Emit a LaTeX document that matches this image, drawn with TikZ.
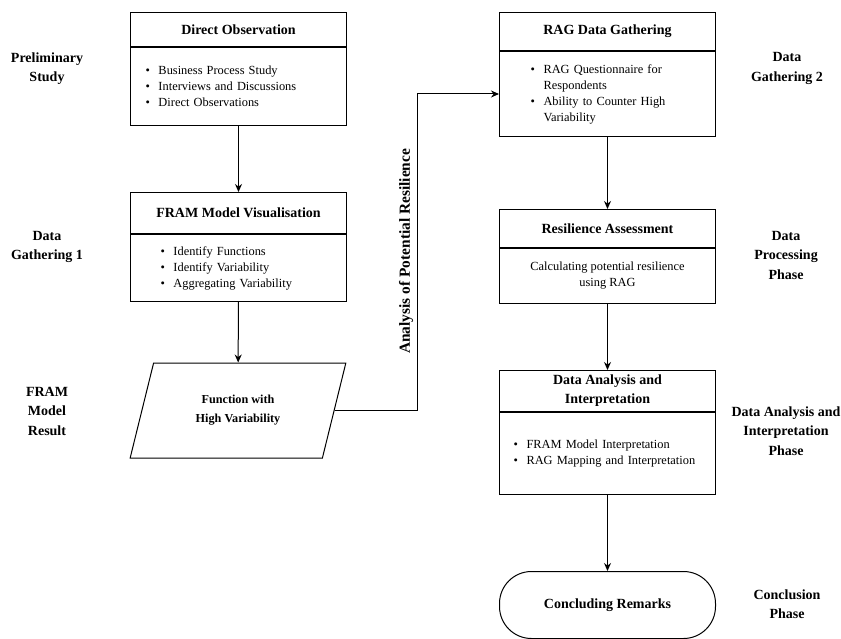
\documentclass[tikz,border=0pt]{standalone}
\usepackage{fontspec}
\setmainfont{Liberation Serif}
\usepackage{tikz}
\usetikzlibrary{arrows,arrows.meta,calc,positioning,shapes}
\newcommand{\headfont}{\fontsize{14}{19}\selectfont\bfseries}
\newcommand{\bodyfont}{\fontsize{12.4}{16}\selectfont}
\newcommand{\phasefont}{\fontsize{14}{19.5}\selectfont\bfseries}
\newcommand{\bitem}{\makebox[13pt][l]{\textbullet}}
\tikzset{%
  arrow/.style={line width=1pt,-{Stealth[length=8pt,width=7pt]}},
  head/.style={draw,line width=1pt,minimum width=216pt,font=\headfont,align=center,inner sep=2pt,anchor=north west},
  body/.style={draw,line width=1pt,minimum width=216pt,font=\bodyfont,below=0pt of #1},
  phase/.style={font=\phasefont,align=center},
}

\begin{document}
\begin{tikzpicture}[x=1pt,y=-1pt]
      \useasboundingbox (0,0) rectangle (841,639);

      \node[head,minimum height=34pt] (obs) at (130,12) {Direct Observation};
      \node[body=obs,minimum height=78pt,inner xsep=15pt,text width=186pt,align=left] (obsbody)
        {\bitem Business Process Study\\\bitem Interviews and Discussions\\\bitem Direct Observations};
      \node[head,minimum height=41pt] (fram) at (130,192) {FRAM Model Visualisation};
      \node[body=fram,minimum height=67pt,inner xsep=30pt,text width=156pt,align=left] (frambody)
        {\bitem Identify Functions\\\bitem Identify Variability\\\bitem Aggregating Variability};
      \node[trapezium,trapezium left angle=71,trapezium right angle=109,trapezium stretches=true,
        draw,line width=1pt,minimum width=216pt,minimum height=95pt,font=\fontsize{12.2}{19}\selectfont\bfseries,align=center]
        (func) at (238,410.5) {Function with\\High Variability};

      \node[head,minimum height=38pt] (rag) at (499,12) {RAG Data Gathering};
      \node[body=rag,minimum height=85pt,inner xsep=31pt,text width=154pt,align=left] (ragbody)
        {\bitem RAG Questionnaire for\\\hspace*{13pt}Respondents\\\bitem Ability to Counter High\\\hspace*{13pt}Variability};
      \node[head,minimum height=38pt] (res) at (499,209) {Resilience Assessment};
      \node[body=res,minimum height=55pt,align=center] (resbody)
        {Calculating potential resilience\\using RAG};
      \node[head,minimum height=41pt] (ana) at (499,370) {Data Analysis and\\Interpretation};
      \node[body=ana,minimum height=82pt,inner xsep=14pt,text width=188pt,align=left] (anabody)
        {\bitem FRAM Model Interpretation\\\bitem RAG Mapping and Interpretation};
      \node[draw,line width=1pt,rounded corners=32pt,minimum width=216pt,minimum height=67pt,
        font=\headfont,anchor=north west] (end) at (499,571) {Concluding Remarks};

      \node[phase] (prelim) at (47,68.5) {Preliminary\\Study};
      \node[phase] (gather1) at (47,247) {Data\\Gathering 1};
      \node[phase] (result) at (47,411) {FRAM\\Model\\Result};
      \node[phase] (gather2) at (787,68.5) {Data\\Gathering 2};
      \node[phase] (process) at (786,255) {Data\\Processing\\Phase};
      \node[phase] (interp) at (786,431) {Data Analysis and\\Interpretation\\Phase};
      \node[phase] (concl) at (787,604) {Conclusion\\Phase};

      \coordinate (turn) at (417,0);
      \draw[arrow] (obsbody) -- (fram);
      \draw[arrow] (frambody) -- (func);
      \draw[arrow] (func.east) -- (func.east -| turn) -- node[midway,rotate=90,above=1pt,font=\fontsize{15.4}{18}\selectfont\bfseries]
        {Analysis of Potential Resilience} (turn |- ragbody.west) -- (ragbody.west);
      \draw[arrow] (ragbody) -- (res);
      \draw[arrow] (resbody) -- (ana);
      \draw[arrow] (anabody) -- (end);
    \end{tikzpicture}
\end{document}
